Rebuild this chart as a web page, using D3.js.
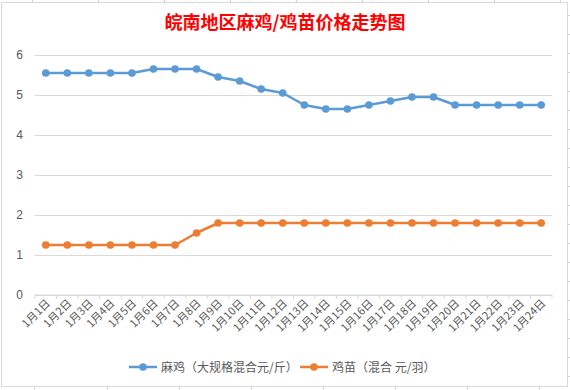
<!DOCTYPE html>
<html>
<head>
<meta charset="utf-8">
<script src="https://cdn.jsdelivr.net/npm/d3@7"></script>
<style>
  body { margin: 0; background: #fff; }
  svg { display: block; font-family: "Noto Sans CJK SC", "Noto Sans", sans-serif; }
</style>
</head>
<body>
<svg id="chart" width="570" height="390"></svg>
<script>
const days = ['1月1日', '1月2日', '1月3日', '1月4日', '1月5日', '1月6日', '1月7日', '1月8日',
  '1月9日', '1月10日', '1月11日', '1月12日', '1月13日', '1月14日', '1月15日', '1月16日',
  '1月17日', '1月18日', '1月19日', '1月20日', '1月21日', '1月22日', '1月23日', '1月24日'];
const maji = [5.55, 5.55, 5.55, 5.55, 5.55, 5.65, 5.65, 5.65, 5.45, 5.35, 5.15, 5.05,
  4.75, 4.65, 4.65, 4.75, 4.85, 4.95, 4.95, 4.75, 4.75, 4.75, 4.75, 4.75];
const jimiao = [1.25, 1.25, 1.25, 1.25, 1.25, 1.25, 1.25, 1.55, 1.8, 1.8, 1.8, 1.8,
  1.8, 1.8, 1.8, 1.8, 1.8, 1.8, 1.8, 1.8, 1.8, 1.8, 1.8, 1.8];
const yTicks = [0, 1, 2, 3, 4, 5, 6];
const seriesNames = ['麻鸡（大规格混合元/斤）', '鸡苗（混合 元/羽）'];
const colors = ['#5B9BD5', '#ED7D31'];

const svg = d3.select('#chart');
const margin = { top: 55, right: 18, bottom: 95, left: 35 };
const width = 570 - margin.left - margin.right;
const height = 390 - margin.top - margin.bottom;

// spreadsheet cells behind the chart
const sheet = svg.append('g').attr('stroke', '#d4d4d4').attr('stroke-width', 1);
[32, 98, 164, 230, 296, 362, 428, 494, 560].forEach(x =>
  sheet.append('line').attr('x1', x + 0.5).attr('x2', x + 0.5).attr('y1', 0).attr('y2', 3));
[34, 107, 179, 251, 323, 395, 467, 539].forEach(x =>
  sheet.append('line').attr('x1', x + 0.5).attr('x2', x + 0.5).attr('y1', 386).attr('y2', 390));
d3.range(15, 390, 19).forEach(y =>
  sheet.append('line').attr('x1', 567).attr('x2', 570).attr('y1', y + 0.5).attr('y2', y + 0.5));

svg.append('rect')
  .attr('x', 1.5).attr('y', 2.5)
  .attr('width', 566).attr('height', 384)
  .attr('fill', '#fff')
  .attr('stroke', '#d9d9d9');

svg.append('text')
  .attr('x', 285).attr('y', 29)
  .attr('text-anchor', 'middle')
  .attr('fill', '#ff0000')
  .style('font-size', '18px')
  .style('font-weight', 'bold')
  .text('皖南地区麻鸡/鸡苗价格走势图');

const x = d3.scaleBand().domain(days).range([0, width]);
const y = d3.scaleLinear().domain([0, 6]).range([height, 0]);

const g = svg.append('g').attr('transform', `translate(${margin.left},${margin.top})`);

const axisY = d3.axisLeft(y).tickValues(yTicks).tickFormat(d3.format('d')).tickSize(-width).tickPadding(12);
g.append('g').attr('class', 'axis-y').call(axisY)
  .call(s => s.select('.domain').remove())
  .call(s => s.selectAll('.tick line').attr('stroke', '#d9d9d9'))
  .call(s => s.selectAll('.tick text').attr('fill', '#595959').style('font-size', '12px'));

// x axis with ticks at category boundaries
const axisG = g.append('g').attr('transform', `translate(0,${height})`);
axisG.append('line').attr('x1', 0).attr('x2', width).attr('stroke', '#d9d9d9');
axisG.selectAll('.bound').data(d3.range(days.length + 1)).join('line')
  .attr('class', 'bound')
  .attr('x1', i => i * x.step()).attr('x2', i => i * x.step())
  .attr('y1', 0).attr('y2', 4)
  .attr('stroke', '#d9d9d9');
axisG.selectAll('.lbl').data(days).join('text')
  .attr('class', 'lbl')
  .attr('text-anchor', 'end')
  .attr('fill', '#595959')
  .style('font-size', '11px')
  .attr('transform', d => `translate(${x(d) + x.bandwidth() / 2 + 5},${9}) rotate(-45)`)
  .text(d => d);

const line = d3.line().x((d, i) => x(days[i]) + x.bandwidth() / 2).y(d => y(d));

[maji, jimiao].forEach((vals, k) => {
  g.append('path')
    .datum(vals)
    .attr('fill', 'none')
    .attr('stroke', colors[k])
    .attr('stroke-width', 2.5)
    .attr('stroke-linejoin', 'round')
    .attr('d', line);
  g.selectAll(`.pt${k}`).data(vals).join('circle')
    .attr('class', `pt${k}`)
    .attr('cx', (d, i) => x(days[i]) + x.bandwidth() / 2)
    .attr('cy', d => y(d))
    .attr('r', 3.8)
    .attr('fill', colors[k]);
});

// legend
const legendX = [129, 300];
const legend = svg.append('g').attr('transform', 'translate(0,367)');
seriesNames.forEach((name, k) => {
  const lg = legend.append('g').attr('transform', `translate(${legendX[k]},0)`);
  lg.append('line').attr('x1', 0).attr('x2', 28).attr('stroke', colors[k]).attr('stroke-width', 2.5);
  lg.append('circle').attr('cx', 14).attr('r', 3.8).attr('fill', colors[k]);
  lg.append('text').attr('x', 32).attr('y', 4.5)
    .attr('fill', '#595959').style('font-size', '12px').text(name);
});
</script>
</body>
</html>
